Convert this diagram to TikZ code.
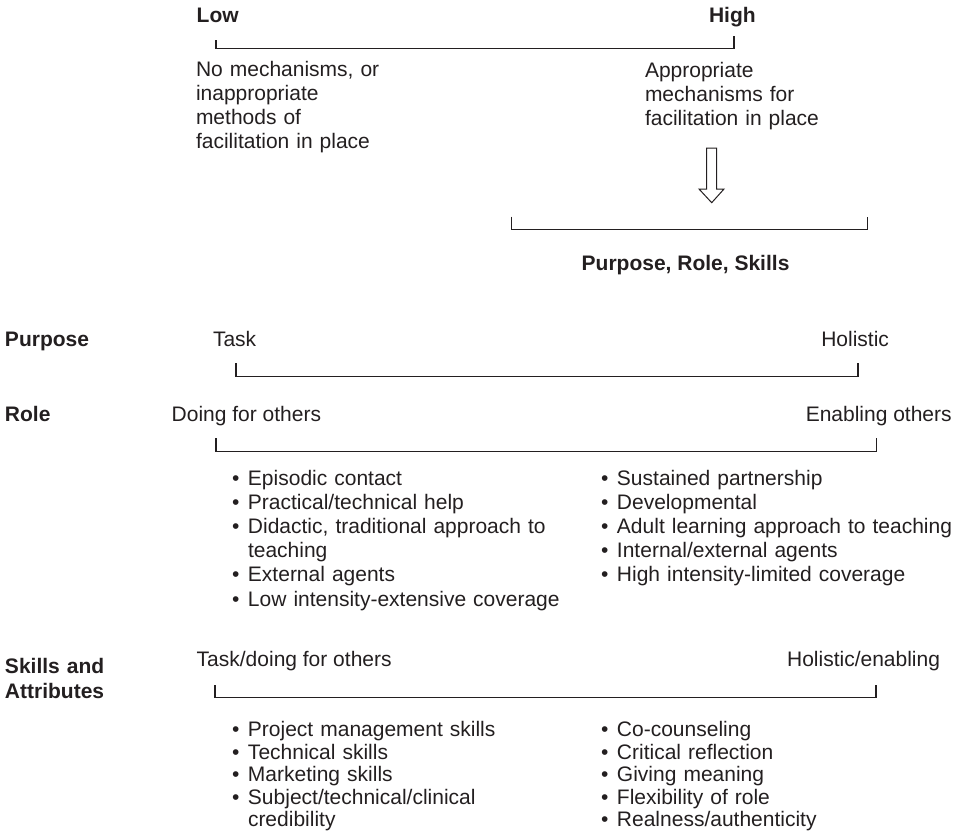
\documentclass[tikz,border=0pt]{standalone}
\usepackage{fontspec}
\setmainfont{Liberation Sans}
\definecolor{ink}{HTML}{231F20}
% bullet and hanging gap used in the lists
\newcommand{\bulletmark}{\makebox[16pt][l]{\textbullet}}
\newcommand{\bulletgap}{\hspace*{16pt}}
\begin{document}
\begin{tikzpicture}[x=1pt,y=-1pt,
  lbl/.style={inner sep=0pt, outer sep=0pt, text=ink, anchor=base west,
              font=\fontsize{21}{24}\selectfont},
  headlbl/.style={lbl, font=\fontsize{21}{25}\selectfont\bfseries},
  listbox/.style={lbl, text width=420pt, align=left},
  bracket/.style={draw=ink, line width=1.5pt},
]
\useasboundingbox (0,0) rectangle (962,838);

% ---- facilitation scale ----
\node[headlbl] (low) at (196.7,22.7) {Low};
\node[headlbl] (high) at (709,22.7) {High};
\draw[bracket] (216,40) |- (734,48.3) -- (734,36);
\node[listbox] (lowtxt) at (196,76.7)
  {No mechanisms, or\\inappropriate\\methods of\\facilitation in place};
\node[listbox] (hightxt) at (645,77.5)
  {Appropriate\\mechanisms for\\facilitation in place};

% hollow arrow down to the summary bracket
\coordinate (arr) at (706.7,148);
\draw[ink, line width=1pt, fill=white]
  (arr) -- ++(0,41) -- ++(-7.7,0) -- ++(12.7,13.7) -- ++(12.3,-13.7)
  -- ++(-7.3,0) -- ++(0,-41) -- cycle;
\draw[bracket] (511.7,216.7) |- (867.3,229.3) -- (867.3,216.7);
\node[headlbl] (prs) at (581.7,270) {Purpose, Role, Skills};

% ---- purpose ----
\node[headlbl] (purpose) at (5,346.7) {Purpose};
\node[lbl] (task) at (213,346.7) {Task};
\node[lbl, anchor=base east] (holistic) at (889,346.7) {Holistic};
\draw[bracket] (236,363) |- (858,376.7) -- (858,362.7);

% ---- role ----
\node[headlbl] (role) at (5,421.7) {Role};
\node[lbl] (doing) at (171.7,421.7) {Doing for others};
\node[lbl, anchor=base east] (enabling) at (951.7,421.7) {Enabling others};
\draw[bracket] (216,438) |- (876.7,451.7) -- (876.7,438);
\node[listbox, font=\fontsize{21}{24.2}\selectfont] (rolel) at (232,485)
  {\bulletmark Episodic contact\\
   \bulletmark Practical/technical help\\
   \bulletmark Didactic, traditional approach to\\
   \bulletgap teaching\\
   \bulletmark External agents\\
   \bulletmark Low intensity-extensive coverage};
\node[listbox, font=\fontsize{21}{24.2}\selectfont] (roler) at (601,485)
  {\bulletmark Sustained partnership\\
   \bulletmark Developmental\\
   \bulletmark Adult learning approach to teaching\\
   \bulletmark Internal/external agents\\
   \bulletmark High intensity-limited coverage};

% ---- skills and attributes ----
\node[headlbl, text width=150pt, align=left] (skills) at (5,673.3)
  {Skills and\\Attributes};
\node[lbl] (taskdoing) at (196.7,666.7) {Task/doing for others};
\node[lbl, anchor=base east] (holen) at (940,666.7) {Holistic/enabling};
\draw[bracket] (215,685) |- (876,697.3) -- (876,685);
\node[listbox, font=\fontsize{21}{22.5}\selectfont] (skillsl) at (232,736.7)
  {\bulletmark Project management skills\\
   \bulletmark Technical skills\\
   \bulletmark Marketing skills\\
   \bulletmark Subject/technical/clinical\\
   \bulletgap credibility};
\node[listbox, font=\fontsize{21}{22.5}\selectfont] (skillsr) at (601,736.7)
  {\bulletmark Co-counseling\\
   \bulletmark Critical reflection\\
   \bulletmark Giving meaning\\
   \bulletmark Flexibility of role\\
   \bulletmark Realness/authenticity};
\end{tikzpicture}
\end{document}
